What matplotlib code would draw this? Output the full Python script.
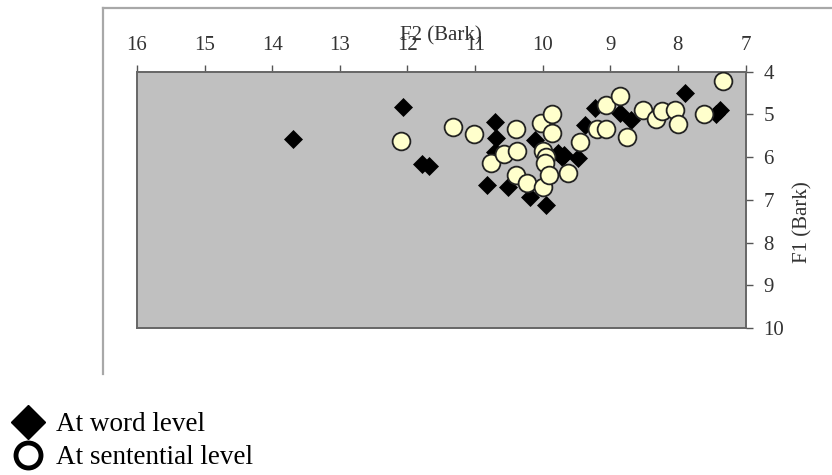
import matplotlib
matplotlib.use("Agg")
import matplotlib.pyplot as plt
from matplotlib.lines import Line2D

plt.rcParams['font.family'] = ['Liberation Serif', 'DejaVu Serif']

# F2 / F1 values (Bark)
word_f2 = [12.06, 11.78, 11.68, 13.70, 10.71, 10.69, 10.71, 10.82, 10.51, 10.19,
           9.95, 10.12, 9.38, 9.72, 9.48, 9.68, 9.23, 8.86, 8.69, 7.89, 7.38,
           7.43, 9.77]
word_f1 = [4.82, 6.15, 6.21, 5.58, 5.17, 5.56, 5.87, 6.65, 6.69, 6.93,
           7.12, 5.60, 5.25, 5.99, 6.03, 5.95, 4.86, 4.97, 5.13, 4.51, 4.90,
           4.98, 5.91]

sent_f2 = [12.10, 11.32, 11.01, 10.39, 10.77, 10.57, 10.38, 10.39, 10.23, 10.00,
           10.02, 9.86, 9.86, 10.00, 9.95, 9.96, 9.90, 9.63, 9.45, 9.20,
           9.06, 9.06, 8.86, 8.76, 8.51, 8.33, 8.24, 8.04, 8.00, 7.61, 7.34]
sent_f1 = [5.62, 5.29, 5.47, 5.35, 6.13, 5.93, 5.86, 6.42, 6.61, 6.71,
           5.19, 5.00, 5.44, 5.86, 5.99, 6.13, 6.42, 6.36, 5.65, 5.35,
           5.33, 4.78, 4.57, 5.52, 4.90, 5.11, 4.92, 4.90, 5.22, 4.99, 4.21]

W, H = 832, 475
fig = plt.figure(figsize=(W / 100, H / 100), dpi=100)

# outer chart frame (only top and left edges visible)
fig.add_artist(Line2D([103 / W, 1], [1 - 8 / H, 1 - 8 / H], transform=fig.transFigure,
                      color='#a8a8a8', lw=1.6))
fig.add_artist(Line2D([103 / W, 103 / W], [1 - 8 / H, 1 - 374 / H], transform=fig.transFigure,
                      color='#a8a8a8', lw=1.6))

x0, x1, y0, y1 = 137, 745.5, 71.7, 328
ax = fig.add_axes([x0 / W, 1 - y1 / H, (x1 - x0) / W, (y1 - y0) / H])
ax.set_facecolor('#c0c0c0')

ax.plot(word_f2, word_f1, 'D', color='black', ms=9.2, mec='black', mew=0.5, ls='none', zorder=3)
ax.plot(sent_f2, sent_f1, 'o', mfc='#ffffcc', mec='#222222', ms=12.8, mew=1.3, ls='none', zorder=4)

ax.set_xlim(16, 7)
ax.set_ylim(10, 4)
ax.set_xticks(range(7, 17))
ax.set_yticks(range(4, 11))
ax.xaxis.tick_top()
ax.yaxis.tick_right()
ax.tick_params(axis='both', direction='out', length=5, width=1, color='#555555',
               labelsize=15, labelcolor='#333333')
ax.tick_params(axis='x', pad=7)
ax.tick_params(axis='y', pad=8)
for s in ax.spines.values():
    s.set_color('#666666')
    s.set_linewidth(1.4)

fig.text(441 / W, 1 - 36 / H, 'F2 (Bark)', ha='center', va='center', fontsize=15, color='#333333')
fig.text(803 / W, 1 - 222 / H, 'F1 (Bark)', ha='center', va='center', rotation=90,
         fontsize=15, color='#333333')

handles = [
    Line2D([], [], marker='D', color='black', ms=17, ls='none'),
    Line2D([], [], marker='o', mfc='white', mec='black', mew=3.5, ms=18, ls='none'),
]
fig.legend(handles, ['At word level', 'At sentential level'], loc='upper left',
           bbox_to_anchor=(13 / W, 1 - 412 / H), frameon=False, fontsize=19.5,
           borderpad=0, borderaxespad=0, handlelength=1.1, handletextpad=0.5,
           labelspacing=0.3)

fig.savefig('out.png', dpi=100)
